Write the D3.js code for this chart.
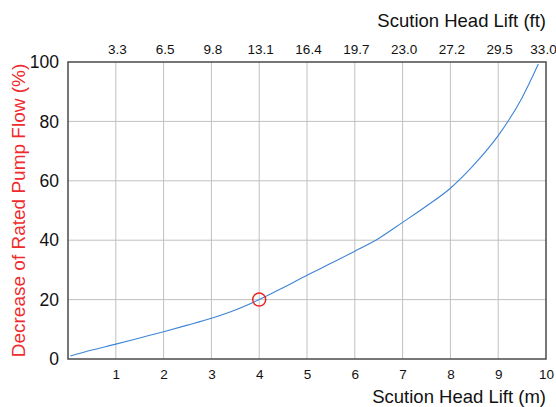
<!DOCTYPE html>
<html>
<head>
<meta charset="utf-8">
<script src="https://cdn.jsdelivr.net/npm/d3@7.9.0/dist/d3.min.js"></script>
<style>
  html, body { margin: 0; padding: 0; background: #fff; }
  svg { display: block; font-family: "Liberation Sans", Arial, sans-serif; }
</style>
</head>
<body>
<div id="chart"></div>
<script>
// ---------------------- Data ----------------------
const liftM = [0.05, 0.5, 1, 1.5, 2, 2.5, 3, 3.5, 4, 4.5, 5, 5.5, 6, 6.5, 7, 7.5, 8, 8.5, 9, 9.5, 9.84];
const flowDrop = [1, 3, 5, 7.1, 9.2, 11.4, 13.7, 16.5, 20, 24, 28.2, 32.2, 36.3, 40.6, 46, 51.5, 57.5, 65.5, 75.2, 88, 99.3];
const mTicks = [1, 2, 3, 4, 5, 6, 7, 8, 9, 10];
const ftLabels = ['3.3', '6.5', '9.8', '13.1', '16.4', '19.7', '23.0', '27.2', '29.5', '33.0'];
const yTicks = [0, 20, 40, 60, 80, 100];
const marker = { m: 4, flow: 20 };

// ---------------------- Layout ----------------------
const width = 556;
const height = 407;
const margin = { top: 62, right: 10, bottom: 48, left: 68 };
const usableArea = {
  top: margin.top,
  bottom: height - margin.bottom,
  left: margin.left,
  right: width - margin.right
};

const svg = d3.select('#chart')
  .append('svg')
  .attr('width', width)
  .attr('height', height);

const xScale = d3.scaleLinear().domain([0, 10]).range([usableArea.left, usableArea.right]);
const yScale = d3.scaleLinear().domain([0, 100]).range([usableArea.bottom, usableArea.top]);

// ---------------------- Grid ----------------------
const grid = svg.append('g').attr('class', 'grid');
grid.selectAll('line.vx')
  .data(mTicks.slice(0, -1))
  .join('line')
  .attr('class', 'vx')
  .attr('x1', d => xScale(d)).attr('x2', d => xScale(d))
  .attr('y1', usableArea.top).attr('y2', usableArea.bottom)
  .attr('stroke', '#c0c0c0').attr('stroke-width', 1);
grid.selectAll('line.hy')
  .data(yTicks.slice(1, -1))
  .join('line')
  .attr('class', 'hy')
  .attr('x1', usableArea.left).attr('x2', usableArea.right)
  .attr('y1', d => yScale(d)).attr('y2', d => yScale(d))
  .attr('stroke', '#c0c0c0').attr('stroke-width', 1);

// ---------------------- Axes ----------------------
const xAxis = svg.append('g')
  .attr('transform', `translate(0, ${usableArea.bottom})`)
  .call(d3.axisBottom(xScale).tickValues(mTicks).tickSize(0).tickPadding(10).tickFormat(d3.format('d')));
xAxis.select('.domain').remove();
xAxis.selectAll('text').attr('font-size', 13.5).attr('fill', '#111').attr('font-family', null);

const topAxis = svg.append('g')
  .attr('transform', `translate(0, ${usableArea.top})`)
  .call(d3.axisTop(xScale).tickValues(mTicks).tickSize(0).tickPadding(8).tickFormat((d, i) => ftLabels[i]));
topAxis.select('.domain').remove();
topAxis.selectAll('text').attr('font-size', 13.5).attr('fill', '#111').attr('font-family', null)
  .attr('dx', d => d === 10 ? -3 : 1);

const yAxis = svg.append('g')
  .attr('transform', `translate(${usableArea.left}, 0)`)
  .call(d3.axisLeft(yScale).tickValues(yTicks).tickSize(0).tickPadding(9));
yAxis.select('.domain').remove();
yAxis.selectAll('text').attr('font-size', 17.5).attr('fill', '#111').attr('font-family', null);

// frame
svg.append('rect')
  .attr('x', usableArea.left).attr('y', usableArea.top)
  .attr('width', usableArea.right - usableArea.left)
  .attr('height', usableArea.bottom - usableArea.top)
  .attr('fill', 'none').attr('stroke', '#4a4a4a').attr('stroke-width', 1.5);

// ---------------------- Titles ----------------------
svg.append('text')
  .attr('x', usableArea.right).attr('y', 403)
  .attr('text-anchor', 'end').attr('font-size', 18.5).attr('fill', '#111')
  .text('Scution Head Lift (m)');
svg.append('text')
  .attr('x', usableArea.right).attr('y', 27)
  .attr('text-anchor', 'end').attr('font-size', 18.5).attr('fill', '#111')
  .text('Scution Head Lift (ft)');
svg.append('text')
  .attr('transform', `translate(25, ${(usableArea.top + usableArea.bottom) / 2}) rotate(-90)`)
  .attr('text-anchor', 'middle').attr('font-size', 19).attr('fill', '#ef2b2d')
  .text('Decrease of Rated Pump Flow (%)');

// ---------------------- Curve ----------------------
const points = liftM.map((m, i) => ({ m, flow: flowDrop[i] }));
const line = d3.line()
  .x(d => xScale(d.m))
  .y(d => yScale(d.flow))
  .curve(d3.curveMonotoneX);

svg.append('path')
  .datum(points)
  .attr('d', line)
  .attr('fill', 'none')
  .attr('stroke', '#3d85d6')
  .attr('stroke-width', 1.1);

svg.append('circle')
  .attr('cx', xScale(marker.m))
  .attr('cy', yScale(marker.flow))
  .attr('r', 6.5)
  .attr('fill', 'none')
  .attr('stroke', '#ee2222')
  .attr('stroke-width', 1.5);
</script>
</body>
</html>
